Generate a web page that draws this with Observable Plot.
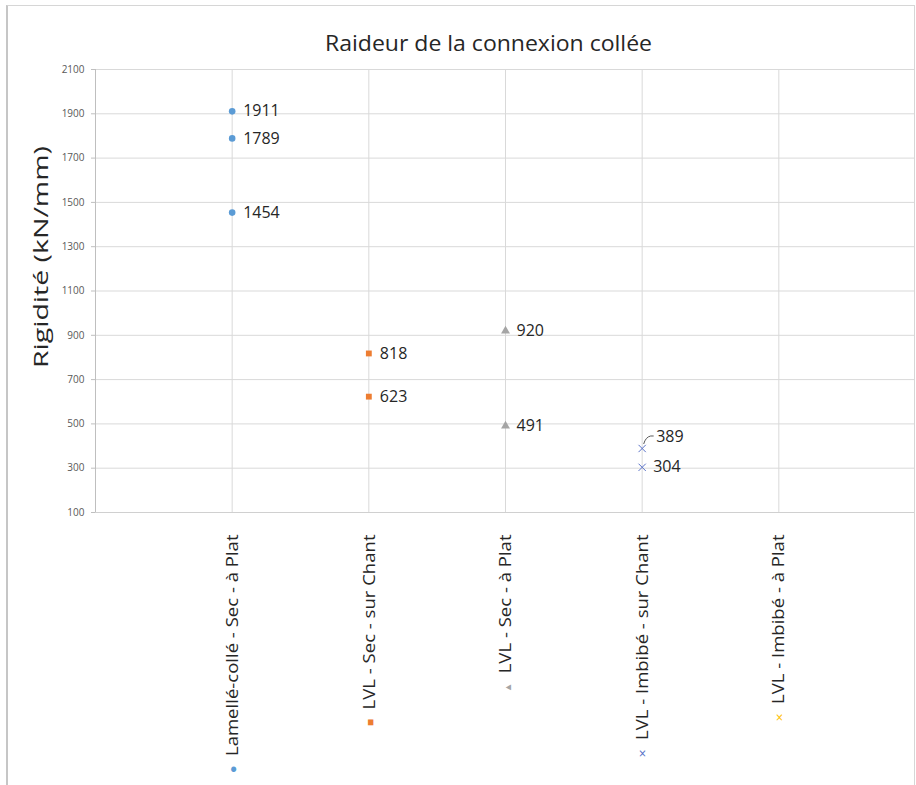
<!DOCTYPE html>
<html>
<head>
<meta charset="utf-8">
<script src="https://cdn.jsdelivr.net/npm/d3@7"></script>
<script src="https://cdn.jsdelivr.net/npm/@observablehq/plot@0.6"></script>
<style>
  body { margin: 0; background: #fff; }
  #wrap { position: relative; width: 916px; height: 785px; overflow: hidden; background: #fff; }
  #wrap svg { position: absolute; left: 0; top: 0; }
  #border { position: absolute; left: 6px; top: 5px; width: 909px; height: 840px;
            border: 1px solid #d6d6d6; border-left: 2px solid #c6c6c6; box-sizing: border-box;
            pointer-events: none; z-index: 2; }
</style>
</head>
<body>
<div id="wrap"><div id="border"></div></div>
<script>
// ---- data ----
const categories = [
  "Lamellé-collé - Sec - à Plat",
  "LVL - Sec - sur Chant",
  "LVL - Sec - à Plat",
  "LVL - Imbibé - sur Chant",
  "LVL - Imbibé - à Plat"
];
const lamelleSecPlat = [1911, 1789, 1454];
const lvlSecChant = [818, 623];
const lvlSecPlat = [920, 491];
const lvlImbibeChant = [389, 304];
const lvlImbibePlat = [];
const yTicks = [100, 300, 500, 700, 900, 1100, 1300, 1500, 1700, 1900, 2100];
const xTicks = [1, 2, 3, 4, 5];
const title = "Raideur de la connexion collée";
const yLabel = "Rigidité (kN/mm)";
const colors = ["#5B9BD5", "#ED7D31", "#A5A5A5", "#5A72C8", "#FFC000"];
const symbols = ["circle", "square", "triangle", "times", "times"];
const legendGlyphs = ["●", "■", "▲", "×", "×"];
const displacedLabel = 389;

const seriesValues = [lamelleSecPlat, lvlSecChant, lvlSecPlat, lvlImbibeChant, lvlImbibePlat];
const rows = seriesValues.flatMap((vals, i) =>
  vals.map(v => ({ cat: i + 1, value: v, series: categories[i], sym: symbols[i] })));

const font = "'Open Sans', sans-serif";

// leader line for the displaced label
function leader(index, scales) {
  const g = d3.create("svg:g");
  rows.filter(d => d.value === displacedLabel).forEach(d => {
    const x = scales.x(d.cat), y = scales.y(d.value);
    g.append("path")
      .attr("d", `M${x + 2},${y - 4} Q${x + 4},${y - 11} ${x + 9},${y - 12} L${x + 12},${y - 12}`)
      .attr("fill", "none").attr("stroke", "#595959").attr("stroke-width", 1);
  });
  return g.node();
}

const chart = Plot.plot({
  width: 916,
  height: 785,
  marginTop: 69,
  marginBottom: 273,
  marginLeft: 95,
  marginRight: 1,
  style: { fontFamily: font, background: "transparent" },
  x: { type: "linear", domain: [0, 6] },
  y: { type: "linear", domain: [100, 2100] },
  color: { domain: categories, range: colors },
  marks: [
    Plot.gridY(yTicks, { stroke: "#d9d9d9", strokeOpacity: 1 }),
    Plot.gridX(xTicks, { stroke: "#d9d9d9", strokeOpacity: 1 }),
    Plot.ruleX([0], { stroke: "#bfbfbf" }),
    Plot.ruleY([100], { stroke: "#d0d0d0" }),
    Plot.axisY(yTicks, {
      tickSize: 4, tickPadding: 7, fontSize: 10, stroke: "#bfbfbf", fill: "#595959",
      tickFormat: d => String(d), label: null
    }),
    Plot.axisX(xTicks, {
      tickSize: 0, tickPadding: 22, tickRotate: -90, fontSize: 17, fill: "#262626",
      tickFormat: i => categories[i - 1], label: null, className: "xcat"
    }),
    Plot.dot(rows.filter(d => d.sym !== "times"), {
      x: "cat", y: "value", symbol: "sym", fill: "series", r: 3.3
    }),
    Plot.dot(rows.filter(d => d.sym === "times"), {
      x: "cat", y: "value", symbol: "times", stroke: "series", r: 3.4, strokeWidth: 1
    }),
    Plot.text(rows.filter(d => d.value !== displacedLabel), {
      x: "cat", y: "value", text: d => String(d.value), textAnchor: "start",
      dx: 11, fontSize: 16, fill: "#262626"
    }),
    Plot.text(rows.filter(d => d.value === displacedLabel), {
      x: "cat", y: "value", text: d => String(d.value), textAnchor: "start",
      dx: 14, dy: -12, fontSize: 16, fill: "#262626"
    }),
    leader,
    Plot.text([title], {
      className: "charttitle",
      frameAnchor: "top", lineAnchor: "middle", textAnchor: "middle",
      dx: -17, dy: -25, fontSize: 21.5, fill: "#262626"
    }),
    Plot.text([yLabel], {
      className: "ytitle",
      frameAnchor: "left", lineAnchor: "middle", textAnchor: "middle", rotate: -90,
      dx: -54, dy: -34, fontSize: 20.5, fill: "#262626"
    })
  ]
});

// prepend legend-style markers to the x tick labels
const xLabelTexts = d3.select(chart).selectAll('g[aria-label="x-axis tick label"] text');
xLabelTexts.each(function () {
  const t = d3.select(this);
  const label = t.text();
  const idx = categories.indexOf(label);
  const sizes = [12, 11, 9, 13, 13];
  t.text(null);
  t.append("tspan").attr("fill", colors[idx]).attr("font-size", sizes[idx])
    .attr("dy", "-0.05em").text(legendGlyphs[idx]);
  t.append("tspan").attr("dy", "0.05em").text("\u2002" + label);
});

document.getElementById("wrap").appendChild(chart);

// stretch text to the proportions of the reference rendering
function stretch(sel, f) {
  sel.each(function () {
    const len = this.getComputedTextLength();
    this.setAttribute("textLength", (len * f).toFixed(1));
    this.setAttribute("lengthAdjust", "spacingAndGlyphs");
  });
}
stretch(xLabelTexts, 1.09);
d3.select(chart).selectAll('.charttitle text')
  .attr("textLength", 327).attr("lengthAdjust", "spacingAndGlyphs");
d3.select(chart).selectAll('.ytitle text')
  .attr("textLength", 222).attr("lengthAdjust", "spacingAndGlyphs");
</script>
</body>
</html>
